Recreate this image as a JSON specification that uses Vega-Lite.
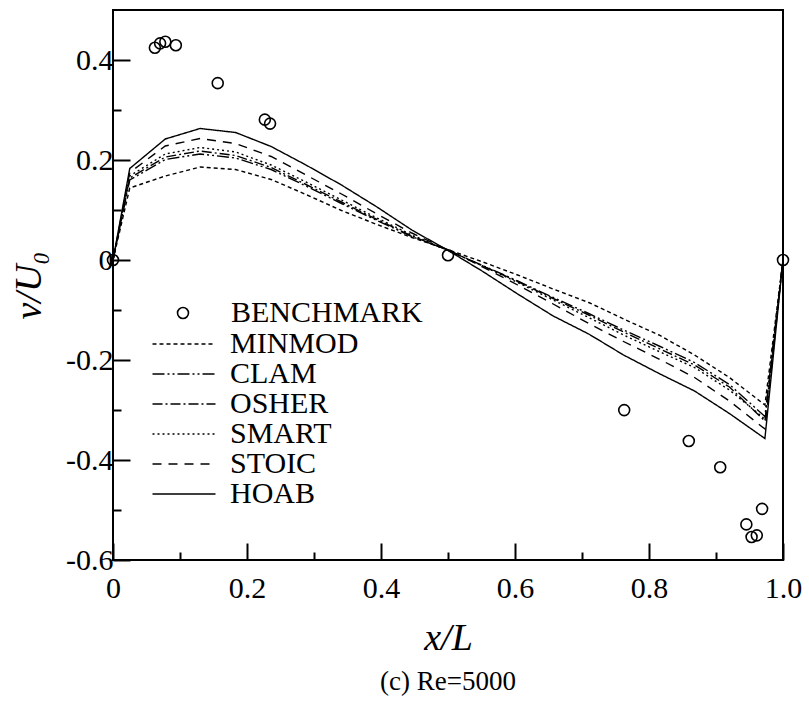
{
  "$schema": "https://vega.github.io/schema/vega-lite/v6.json",
  "width": 670,
  "height": 550,
  "autosize": {"type": "none"},
  "padding": {"left": 113, "top": 10, "right": 26, "bottom": 152},
  "background": "white",
  "title": {
    "text": "(c) Re=5000",
    "orient": "bottom",
    "anchor": "middle",
    "font": "Liberation Serif",
    "fontSize": 27,
    "fontWeight": "normal",
    "color": "black",
    "offset": 12
  },
  "config": {
    "view": {"stroke": "black", "strokeWidth": 2},
    "style": {
      "guide-label": {"font": "Liberation Serif", "fill": "black"},
      "guide-title": {"font": "Liberation Serif", "fill": "black"}
    },
    "axis": {
      "domain": false,
      "grid": false,
      "tickColor": "black",
      "tickWidth": 2,
      "labelFont": "Liberation Serif",
      "labelFontSize": 30,
      "labelColor": "black",
      "titleFont": "Liberation Serif",
      "titleFontSize": 38,
      "titleFontStyle": "italic",
      "titleFontWeight": "normal",
      "titleColor": "black"
    },
    "legend": {
      "title": null,
      "orient": "none",
      "padding": 0,
      "labelFont": "Liberation Serif",
      "labelFontSize": 30,
      "labelColor": "black",
      "labelLimit": 400
    }
  },
  "datasets": {
    "benchmark": [
      {"series": "BENCHMARK", "x": 0.0, "v": 0.0},
      {"series": "BENCHMARK", "x": 0.0625, "v": 0.4245},
      {"series": "BENCHMARK", "x": 0.0703, "v": 0.4333},
      {"series": "BENCHMARK", "x": 0.0781, "v": 0.4365},
      {"series": "BENCHMARK", "x": 0.0938, "v": 0.4295},
      {"series": "BENCHMARK", "x": 0.1563, "v": 0.3537},
      {"series": "BENCHMARK", "x": 0.2266, "v": 0.2807},
      {"series": "BENCHMARK", "x": 0.2344, "v": 0.2728},
      {"series": "BENCHMARK", "x": 0.5, "v": 0.0095},
      {"series": "BENCHMARK", "x": 0.763, "v": -0.3002},
      {"series": "BENCHMARK", "x": 0.8594, "v": -0.3621},
      {"series": "BENCHMARK", "x": 0.9063, "v": -0.4144},
      {"series": "BENCHMARK", "x": 0.9453, "v": -0.5288},
      {"series": "BENCHMARK", "x": 0.9531, "v": -0.5541},
      {"series": "BENCHMARK", "x": 0.9609, "v": -0.5507},
      {"series": "BENCHMARK", "x": 0.9688, "v": -0.4977},
      {"series": "BENCHMARK", "x": 1.0, "v": 0.0}
    ],
    "schemes": [
      {"s": "MINMOD", "x": 0.0, "v": 0.0},
      {"s": "MINMOD", "x": 0.025, "v": 0.144},
      {"s": "MINMOD", "x": 0.078, "v": 0.168},
      {"s": "MINMOD", "x": 0.130, "v": 0.186},
      {"s": "MINMOD", "x": 0.183, "v": 0.181},
      {"s": "MINMOD", "x": 0.236, "v": 0.161},
      {"s": "MINMOD", "x": 0.288, "v": 0.131},
      {"s": "MINMOD", "x": 0.341, "v": 0.099},
      {"s": "MINMOD", "x": 0.394, "v": 0.071},
      {"s": "MINMOD", "x": 0.446, "v": 0.045},
      {"s": "MINMOD", "x": 0.499, "v": 0.021},
      {"s": "MINMOD", "x": 0.552, "v": -0.004},
      {"s": "MINMOD", "x": 0.604, "v": -0.030},
      {"s": "MINMOD", "x": 0.657, "v": -0.058},
      {"s": "MINMOD", "x": 0.710, "v": -0.085},
      {"s": "MINMOD", "x": 0.762, "v": -0.118},
      {"s": "MINMOD", "x": 0.815, "v": -0.150},
      {"s": "MINMOD", "x": 0.868, "v": -0.190},
      {"s": "MINMOD", "x": 0.920, "v": -0.235},
      {"s": "MINMOD", "x": 0.973, "v": -0.290},
      {"s": "MINMOD", "x": 1.0, "v": 0.0},
      {"s": "CLAM", "x": 0.0, "v": 0.0},
      {"s": "CLAM", "x": 0.025, "v": 0.160},
      {"s": "CLAM", "x": 0.078, "v": 0.201},
      {"s": "CLAM", "x": 0.130, "v": 0.212},
      {"s": "CLAM", "x": 0.183, "v": 0.204},
      {"s": "CLAM", "x": 0.236, "v": 0.181},
      {"s": "CLAM", "x": 0.288, "v": 0.148},
      {"s": "CLAM", "x": 0.341, "v": 0.113},
      {"s": "CLAM", "x": 0.394, "v": 0.079},
      {"s": "CLAM", "x": 0.446, "v": 0.047},
      {"s": "CLAM", "x": 0.499, "v": 0.020},
      {"s": "CLAM", "x": 0.552, "v": -0.011},
      {"s": "CLAM", "x": 0.604, "v": -0.042},
      {"s": "CLAM", "x": 0.657, "v": -0.075},
      {"s": "CLAM", "x": 0.710, "v": -0.107},
      {"s": "CLAM", "x": 0.762, "v": -0.140},
      {"s": "CLAM", "x": 0.815, "v": -0.172},
      {"s": "CLAM", "x": 0.868, "v": -0.205},
      {"s": "CLAM", "x": 0.920, "v": -0.249},
      {"s": "CLAM", "x": 0.973, "v": -0.313},
      {"s": "CLAM", "x": 1.0, "v": 0.0},
      {"s": "OSHER", "x": 0.0, "v": 0.0},
      {"s": "OSHER", "x": 0.025, "v": 0.164},
      {"s": "OSHER", "x": 0.078, "v": 0.206},
      {"s": "OSHER", "x": 0.130, "v": 0.218},
      {"s": "OSHER", "x": 0.183, "v": 0.209},
      {"s": "OSHER", "x": 0.236, "v": 0.185},
      {"s": "OSHER", "x": 0.288, "v": 0.151},
      {"s": "OSHER", "x": 0.341, "v": 0.116},
      {"s": "OSHER", "x": 0.394, "v": 0.081},
      {"s": "OSHER", "x": 0.446, "v": 0.048},
      {"s": "OSHER", "x": 0.499, "v": 0.020},
      {"s": "OSHER", "x": 0.552, "v": -0.012},
      {"s": "OSHER", "x": 0.604, "v": -0.043},
      {"s": "OSHER", "x": 0.657, "v": -0.077},
      {"s": "OSHER", "x": 0.710, "v": -0.110},
      {"s": "OSHER", "x": 0.762, "v": -0.144},
      {"s": "OSHER", "x": 0.815, "v": -0.177},
      {"s": "OSHER", "x": 0.868, "v": -0.210},
      {"s": "OSHER", "x": 0.920, "v": -0.254},
      {"s": "OSHER", "x": 0.973, "v": -0.322},
      {"s": "OSHER", "x": 1.0, "v": 0.0},
      {"s": "SMART", "x": 0.0, "v": 0.0},
      {"s": "SMART", "x": 0.025, "v": 0.168},
      {"s": "SMART", "x": 0.078, "v": 0.212},
      {"s": "SMART", "x": 0.130, "v": 0.225},
      {"s": "SMART", "x": 0.183, "v": 0.216},
      {"s": "SMART", "x": 0.236, "v": 0.190},
      {"s": "SMART", "x": 0.288, "v": 0.156},
      {"s": "SMART", "x": 0.341, "v": 0.120},
      {"s": "SMART", "x": 0.394, "v": 0.084},
      {"s": "SMART", "x": 0.446, "v": 0.050},
      {"s": "SMART", "x": 0.499, "v": 0.020},
      {"s": "SMART", "x": 0.552, "v": -0.012},
      {"s": "SMART", "x": 0.604, "v": -0.045},
      {"s": "SMART", "x": 0.657, "v": -0.080},
      {"s": "SMART", "x": 0.710, "v": -0.115},
      {"s": "SMART", "x": 0.762, "v": -0.150},
      {"s": "SMART", "x": 0.815, "v": -0.183},
      {"s": "SMART", "x": 0.868, "v": -0.215},
      {"s": "SMART", "x": 0.920, "v": -0.260},
      {"s": "SMART", "x": 0.973, "v": -0.318},
      {"s": "SMART", "x": 1.0, "v": 0.0},
      {"s": "STOIC", "x": 0.0, "v": 0.0},
      {"s": "STOIC", "x": 0.025, "v": 0.175},
      {"s": "STOIC", "x": 0.078, "v": 0.228},
      {"s": "STOIC", "x": 0.130, "v": 0.243},
      {"s": "STOIC", "x": 0.183, "v": 0.233},
      {"s": "STOIC", "x": 0.236, "v": 0.207},
      {"s": "STOIC", "x": 0.288, "v": 0.170},
      {"s": "STOIC", "x": 0.341, "v": 0.132},
      {"s": "STOIC", "x": 0.394, "v": 0.092},
      {"s": "STOIC", "x": 0.446, "v": 0.054},
      {"s": "STOIC", "x": 0.499, "v": 0.021},
      {"s": "STOIC", "x": 0.552, "v": -0.014},
      {"s": "STOIC", "x": 0.604, "v": -0.050},
      {"s": "STOIC", "x": 0.657, "v": -0.088},
      {"s": "STOIC", "x": 0.710, "v": -0.127},
      {"s": "STOIC", "x": 0.762, "v": -0.163},
      {"s": "STOIC", "x": 0.815, "v": -0.198},
      {"s": "STOIC", "x": 0.868, "v": -0.235},
      {"s": "STOIC", "x": 0.920, "v": -0.282},
      {"s": "STOIC", "x": 0.973, "v": -0.338},
      {"s": "STOIC", "x": 1.0, "v": 0.0},
      {"s": "HOAB", "x": 0.0, "v": 0.0},
      {"s": "HOAB", "x": 0.025, "v": 0.183},
      {"s": "HOAB", "x": 0.078, "v": 0.242},
      {"s": "HOAB", "x": 0.130, "v": 0.263},
      {"s": "HOAB", "x": 0.183, "v": 0.255},
      {"s": "HOAB", "x": 0.236, "v": 0.227},
      {"s": "HOAB", "x": 0.288, "v": 0.190},
      {"s": "HOAB", "x": 0.341, "v": 0.150},
      {"s": "HOAB", "x": 0.394, "v": 0.106},
      {"s": "HOAB", "x": 0.446, "v": 0.060},
      {"s": "HOAB", "x": 0.499, "v": 0.020},
      {"s": "HOAB", "x": 0.552, "v": -0.023},
      {"s": "HOAB", "x": 0.604, "v": -0.068},
      {"s": "HOAB", "x": 0.657, "v": -0.112},
      {"s": "HOAB", "x": 0.710, "v": -0.148},
      {"s": "HOAB", "x": 0.762, "v": -0.190},
      {"s": "HOAB", "x": 0.815, "v": -0.227},
      {"s": "HOAB", "x": 0.868, "v": -0.262},
      {"s": "HOAB", "x": 0.920, "v": -0.307},
      {"s": "HOAB", "x": 0.973, "v": -0.357},
      {"s": "HOAB", "x": 1.0, "v": 0.0}
    ]
  },
  "layer": [
    {
      "data": {"name": "benchmark"},
      "mark": {"type": "point", "filled": false, "strokeWidth": 1.6, "color": "black", "size": 120, "opacity": 1},
      "encoding": {
        "x": {
          "field": "x", "type": "quantitative",
          "scale": {"domain": [0, 1], "nice": false, "zero": false},
          "axis": {"orient": "bottom", "values": [0.1, 0.3, 0.5, 0.7, 0.9], "labels": false, "tickSize": -8, "title": null}
        },
        "y": {
          "field": "v", "type": "quantitative",
          "scale": {"domain": [-0.6, 0.5], "nice": false, "zero": false},
          "axis": {"orient": "left", "values": [-0.5, -0.3, -0.1, 0.1, 0.3], "labels": false, "tickSize": -8, "title": null}
        },
        "shape": {
          "field": "series", "type": "nominal",
          "scale": {"domain": ["BENCHMARK"], "range": ["circle"]},
          "legend": {
            "legendX": 55, "legendY": 288,
            "symbolSize": 120, "symbolStrokeWidth": 1.6,
            "symbolStrokeColor": "black", "symbolFillColor": "transparent",
            "labelOffset": 33
          }
        }
      }
    },
    {
      "data": {"name": "schemes"},
      "mark": {"type": "line", "color": "black", "strokeWidth": 1.4},
      "encoding": {
        "x": {
          "field": "x", "type": "quantitative",
          "scale": {"domain": [0, 1], "nice": false, "zero": false},
          "axis": {
            "orient": "bottom", "values": [0, 0.2, 0.4, 0.6, 0.8, 1.0], "tickSize": -17,
            "labelFont": "Liberation Serif", "labelFontSize": 30,
            "labelPadding": 30, "labelFlush": false,
            "labelExpr": "datum.value == 0 ? '0' : format(datum.value, '.1f')",
            "title": "x/L", "titlePadding": 16,
            "encode": {"labels": {"update": {"font": {"value": "Liberation Serif"}}}}
          }
        },
        "y": {
          "field": "v", "type": "quantitative",
          "scale": {"domain": [-0.6, 0.5], "nice": false, "zero": false},
          "axis": {
            "orient": "left", "values": [-0.6, -0.4, -0.2, 0, 0.2, 0.4], "tickSize": -17,
            "labelFont": "Liberation Serif", "labelFontSize": 30,
            "labelPadding": 17, "labelFlush": false,
            "labelExpr": "datum.value == 0 ? '0' : (datum.value < 0 ? '-' + format(-datum.value, '.1f') : format(datum.value, '.1f'))",
            "title": "v/U₀", "titlePadding": 17,
            "encode": {"labels": {"update": {"font": {"value": "Liberation Serif"}}}}
          }
        },
        "strokeDash": {
          "field": "s", "type": "nominal",
          "scale": {
            "domain": ["MINMOD", "CLAM", "OSHER", "SMART", "STOIC", "HOAB"],
            "range": [[4, 3], [12, 3, 2, 3, 2, 3], [10, 3, 2, 3], [2, 3], [9, 7], [1, 0]]
          },
          "legend": {
            "legendX": 56, "legendY": 319,
            "symbolType": "M-3,0H3", "symbolSize": 441,
            "symbolStrokeWidth": 1.4, "symbolStrokeColor": "black",
            "rowPadding": 0,
            "labelOffset": 31
          }
        },
        "order": {"field": "x", "type": "quantitative"}
      }
    }
  ],
  "resolve": {"axis": {"x": "independent", "y": "independent"}}
}
